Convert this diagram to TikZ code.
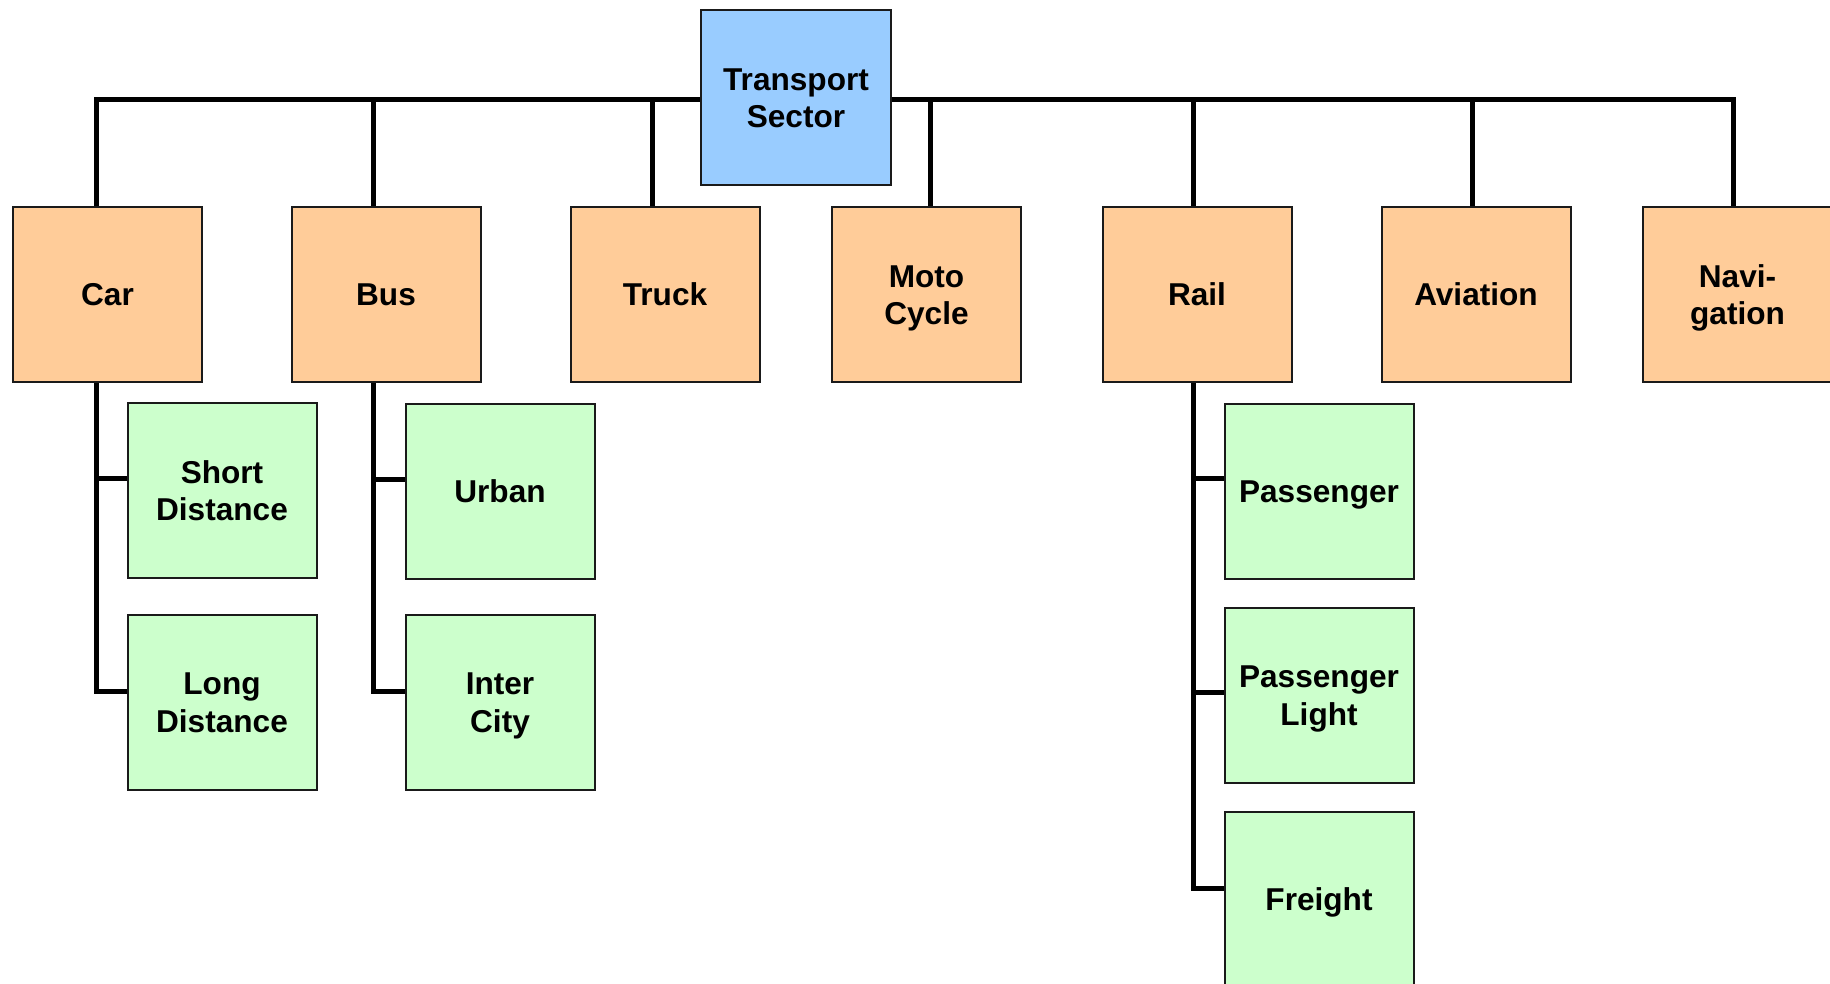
\documentclass[tikz,border=0pt]{standalone}
\usepackage{fontspec}
\setmainfont{Liberation Sans}
\usetikzlibrary{backgrounds}
\definecolor{topblue}{HTML}{99CCFF}
\definecolor{modeorange}{HTML}{FFCC99}
\definecolor{subgreen}{HTML}{CCFFCC}
\definecolor{edgegrey}{HTML}{1A1A1A}
% strut centred on the capital height, so labels sit by their caps
\newcommand{\capstrut}{\rule[-3.6pt]{0pt}{18.5pt}}
% label text with struts on its first and last lines
\newcommand{\lbl}[1]{\capstrut#1\capstrut}
\tikzset{
  box/.style={draw=edgegrey, line width=1pt, minimum width=94.5pt, minimum height=87.5pt,
    inner sep=0pt, outer sep=0pt, align=center,
    font=\fontsize{15.8pt}{18.7pt}\selectfont\bfseries},
  rootbox/.style={box, fill=topblue, minimum width=95pt},
  modebox/.style={box, fill=modeorange},
  subbox/.style={box, fill=subgreen},
  link/.style={line width=2.5pt, black}
}
\begin{document}
\begin{tikzpicture}[x=0.5pt, y=-0.5pt]
\useasboundingbox (0,0) rectangle (1830,984);
\clip (0,0) rectangle (1830,984);

% root
\node[rootbox] (ts) at (796,97.5) {\lbl{Transport\\Sector}};

% transport modes
\node[modebox] (car)  at (107.5,294.5) {\lbl{Car}};
\node[modebox] (bus)  at (386,294.5) {\lbl{Bus}};
\node[modebox] (truck) at (665,294.5) {\lbl{Truck}};
\node[modebox] (moto) at (926.5,294.5) {\lbl{Moto\\Cycle}};
\node[modebox] (rail) at (1197,294.5) {\lbl{Rail}};
\node[modebox] (avia) at (1476,294.5) {\lbl{Aviation}};
\node[modebox] (navi) at (1737.5,294.5) {\lbl{Navi-\\gation}};

% sub-categories
\node[subbox] (sd) at (222,490.5) {\lbl{Short\\Distance}};
\node[subbox] (ld) at (222,702) {\lbl{Long\\Distance}};
\node[subbox] (urban) at (500,491) {\lbl{Urban}};
\node[subbox] (ic) at (500,702) {\lbl{Inter\\City}};
\node[subbox] (pass) at (1319,491) {\lbl{Passenger}};
\node[subbox] (passl) at (1319,695) {\lbl{Passenger\\Light}};
\node[subbox] (freight) at (1319,899.5) {\lbl{Freight}};

\begin{pgfonlayer}{background}
  % top bus bar with drops to each mode
  \draw[link] ([yshift=-1.25pt]ts.center) -| ([xshift=-5.75pt]car.north);
  \draw[link] ([yshift=-1.25pt]ts.center) -| ([xshift=-6.25pt]bus.north);
  \draw[link] ([yshift=-1.25pt]ts.center) -| ([xshift=-6.5pt]truck.north);
  \draw[link] ([yshift=-1.25pt]ts.center) -| ([xshift=1.75pt]moto.north);
  \draw[link] ([yshift=-1.25pt]ts.center) -| ([xshift=-2pt]rail.north);
  \draw[link] ([yshift=-1.25pt]ts.center) -| ([xshift=-2pt]avia.north);
  \draw[link] ([yshift=-1.25pt]ts.center) -| ([xshift=-2.25pt]navi.north);

  % car branches
  \draw[link] ([xshift=-5.75pt]car.south) |- ([yshift=6pt]sd.west);
  \draw[link] ([xshift=-5.75pt]car.south) |- ([yshift=5.5pt]ld.west);
  % bus branches
  \draw[link] ([xshift=-6.25pt]bus.south) |- ([yshift=6pt]urban.west);
  \draw[link] ([xshift=-6.25pt]bus.south) |- ([yshift=5.5pt]ic.west);
  % rail branches
  \draw[link] ([xshift=-2pt]rail.south) |- ([yshift=6.25pt]pass.west);
  \draw[link] ([xshift=-2pt]rail.south) |- ([yshift=1.5pt]passl.west);
  \draw[link] ([xshift=-2pt]rail.south) |- ([yshift=5.75pt]freight.west);
\end{pgfonlayer}
\end{tikzpicture}
\end{document}
